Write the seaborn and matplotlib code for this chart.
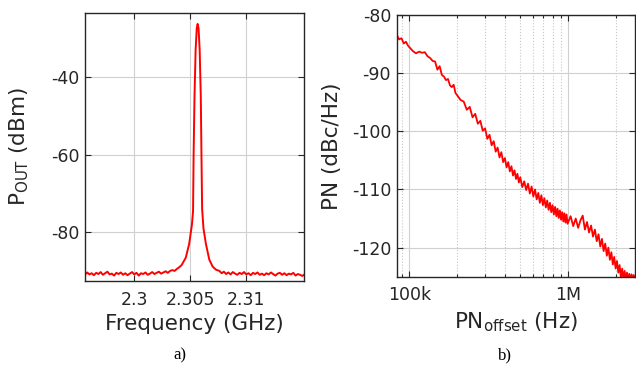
import matplotlib
matplotlib.use("Agg")
import matplotlib.pyplot as plt
import matplotlib.ticker as mticker
import pandas as pd
import seaborn as sns

# ---- a) output spectrum (GHz, dBm) ----
freq_ghz = [
    2.2956, 2.2958, 2.2960, 2.2962, 2.2964, 2.2966, 2.2968, 2.2970, 2.2972, 2.2974,
    2.2976, 2.2978, 2.2980, 2.2982, 2.2984, 2.2986, 2.2988, 2.2990, 2.2992, 2.2994,
    2.2996, 2.2998, 2.3000, 2.3002, 2.3004, 2.3006, 2.3008, 2.3010, 2.3012, 2.3014,
    2.3016, 2.3018, 2.3020, 2.3022, 2.3024, 2.3026, 2.3028, 2.3030, 2.3032, 2.3034,
    2.3036, 2.3038, 2.3040,
    2.30423, 2.3046, 2.3049, 2.30515, 2.30525, 2.3053, 2.30538, 2.30548, 2.30558,
    2.30566, 2.30574, 2.30584, 2.30594, 2.30600, 2.30606, 2.30618, 2.3064, 2.3067,
    2.3070, 2.3073,
    2.3076, 2.3078, 2.3080, 2.3082, 2.3084, 2.3086, 2.3088, 2.3090, 2.3092, 2.3094,
    2.3096, 2.3098, 2.3100, 2.3102, 2.3104, 2.3106, 2.3108, 2.3110, 2.3112, 2.3114,
    2.3116, 2.3118, 2.3120, 2.3122, 2.3124, 2.3126, 2.3128, 2.3130, 2.3132, 2.3134,
    2.3136, 2.3138, 2.3140, 2.3142, 2.3144, 2.3146, 2.3148, 2.3150, 2.3152,
]
pout_dbm = [
    -90.9, -90.3, -90.8, -90.5, -91.0, -90.4, -90.7, -90.2, -90.9, -90.5,
    -90.1, -90.8, -90.6, -91.1, -90.4, -90.7, -90.3, -90.9, -90.5, -91.0,
    -90.6, -90.2, -90.8, -90.4, -91.1, -90.5, -90.7, -90.3, -90.9, -90.6,
    -90.2, -90.7, -90.4, -90.1, -90.6, -90.3, -90.0, -90.4, -89.9, -89.7,
    -89.9, -89.4, -89.0,
    -88.4, -86.5, -83.0, -78.0, -74.5, -60.0, -45.0, -33.0, -27.5,
    -26.4, -27.5, -33.0, -45.0, -60.0, -74.0, -79.0, -83.0, -87.0,
    -88.8, -89.6,
    -89.9, -90.5, -90.1, -90.7, -90.3, -90.8, -90.2, -90.6, -90.9, -90.4,
    -90.7, -90.2, -90.8, -90.5, -91.0, -90.4, -90.7, -90.3, -90.9, -90.6,
    -91.0, -90.5, -90.8, -90.3, -90.7, -91.1, -90.6, -90.4, -90.9, -90.5,
    -91.0, -90.6, -90.8, -90.4, -91.1, -90.7, -90.9, -91.2, -90.8,
]

# ---- b) phase noise (kHz offset, dBc/Hz) ----
pn_offset_khz = [
    83, 86, 89, 92, 95, 98, 101, 105, 110, 115, 120, 125, 130, 135, 140, 145,
    150, 155, 160, 165, 170, 175, 180, 185, 190, 195, 200,
    210, 220, 230, 240, 250, 260, 270, 280, 290, 300, 310, 320, 330, 340, 350,
    360, 370, 380, 390, 400, 410, 420, 430, 440, 450, 460, 470, 480, 490, 500,
    515, 530, 545, 560, 575, 590, 605, 620, 635, 650, 665, 680, 695, 710, 725,
    740, 755, 770, 785, 800, 815, 830, 845, 860, 875, 890, 905, 920, 935, 950,
    965, 980, 995,
    1040, 1080, 1120, 1160, 1200, 1240, 1280, 1320, 1360, 1400, 1440, 1480,
    1520, 1560, 1600, 1640, 1680, 1720, 1760, 1800, 1840, 1880, 1920, 1960,
    2000, 2040, 2080, 2120, 2160, 2200, 2240, 2280, 2320, 2360, 2400, 2440,
    2480, 2520, 2560, 2600, 2640, 2680,
]
pn_dbc = [
    -83.4, -84.2, -84.0, -84.9, -84.6, -85.3, -85.7, -86.2, -86.6, -86.3, -86.5,
    -86.4, -87.1, -87.4, -87.9, -88.0, -89.4, -88.8, -90.3, -90.6, -91.2, -91.0,
    -92.1, -92.4, -92.0, -93.4, -93.8,
    -94.6, -94.9, -96.3, -95.8, -97.6, -97.0, -98.7, -98.2, -99.9, -99.5, -101.3,
    -100.6, -102.4, -101.7, -103.5, -102.8, -104.5, -103.6, -105.3, -104.6,
    -106.2, -105.3, -106.9, -106.0, -107.6, -106.7, -108.2, -107.3, -108.8,
    -107.9,
    -109.6, -108.6, -110.1, -109.0, -110.7, -109.5, -111.2, -110.0, -111.7,
    -110.6, -112.3, -111.0, -112.7, -111.5, -113.1, -111.9, -113.5, -112.3,
    -113.9, -112.7, -114.3, -113.0, -114.6, -113.3, -114.9, -113.6, -115.2,
    -113.9, -115.5, -114.1, -115.7, -114.3, -115.9,
    -114.6, -116.3, -115.0, -116.6, -115.3, -114.5, -116.9, -115.6, -117.4,
    -116.2, -118.1, -116.9, -118.9, -117.7, -119.8, -118.5, -120.6, -119.3,
    -121.4, -120.0, -122.1, -120.8, -122.9, -121.6, -123.6, -122.3, -124.3,
    -123.0, -125.2, -123.6, -125.5, -124.0, -125.8, -124.3, -125.9, -124.5,
    -126.0, -124.6, -126.0, -124.7, -126.0, -124.8,
]

spec = pd.DataFrame({"f": freq_ghz, "p": pout_dbm})
pn = pd.DataFrame({"f": [v * 1e3 for v in pn_offset_khz], "p": pn_dbc})

sns.set_style("ticks")
plt.rcParams["font.family"] = ["DejaVu Sans"]
plt.rcParams["axes.unicode_minus"] = False
txt = "#262626"

fig = plt.figure(figsize=(6.36, 3.70), dpi=100)
ax1 = fig.add_axes([0.1336, 0.2405, 0.3443, 0.7243])
ax2 = fig.add_axes([0.6237, 0.2522, 0.3755, 0.7073])

sns.lineplot(data=spec, x="f", y="p", ax=ax1, color="#ff0000", lw=1.4,
             estimator=None, sort=False)
sns.lineplot(data=pn, x="f", y="p", ax=ax2, color="#ff0000", lw=1.3,
             estimator=None, sort=False)

# left panel
ax1.set_xlim(2.2956, 2.31515)
ax1.set_ylim(-92.5, -23.6)
ax1.set_xticks([2.3, 2.305, 2.31])
ax1.set_xticklabels(["2.3", "2.305", "2.31"])
ax1.set_yticks([-40, -60, -80])
ax1.grid(True, color="#d0d0d0", lw=0.8)
ax1.set_xlabel("Frequency (GHz)", fontsize=15.5, color=txt, va="top")
ax1.set_ylabel(r"P$_{\mathregular{OUT}}$ (dBm)", fontsize=15.5, color=txt)
ax1.xaxis.set_label_coords(0.5, -0.122)
ax1.yaxis.set_label_coords(-0.245, 0.5)

# right panel
ax2.set_xscale("log")
ax2.set_xlim(8.3e4, 2.67e6)
ax2.set_ylim(-125, -80)
ax2.set_xticks([1e5, 1e6])
ax2.set_xticklabels(["100k", "1M"])
ax2.xaxis.set_minor_locator(mticker.LogLocator(base=10, subs=range(2, 10)))
ax2.xaxis.set_minor_formatter(mticker.NullFormatter())
ax2.set_yticks([-80, -90, -100, -110, -120])
ax2.grid(True, which="major", color="#d0d0d0", lw=0.8)
ax2.grid(True, which="minor", axis="x", color="#c8c8c8", lw=0.8, ls=":")
ax2.set_xlabel(r"PN$_{\mathregular{offset}}$ (Hz)", fontsize=15.5, color=txt, va="top")
ax2.set_ylabel("PN (dBc/Hz)", fontsize=15.5, color=txt)
ax2.xaxis.set_label_coords(0.5, -0.128)
ax2.yaxis.set_label_coords(-0.228, 0.5)

for ax in (ax1, ax2):
    ax.set_axisbelow(True)
    ax.tick_params(which="both", direction="in", top=True, right=True,
                   labelsize=12.5, colors=txt, length=4, width=0.8)
    ax.tick_params(which="minor", length=2)
    ax.tick_params(axis="x", pad=7)
    ax.tick_params(axis="y", pad=4)
    for s in ax.spines.values():
        s.set_visible(True)
        s.set_color(txt)
        s.set_linewidth(1.0)

fig.text(0.283, 0.04, "a)", family="Liberation Serif", fontsize=12,
         ha="center", va="center", color="black")
fig.text(0.794, 0.04, "b)", family="Liberation Serif", fontsize=12,
         ha="center", va="center", color="black")

fig.savefig("out.png", dpi=100)
